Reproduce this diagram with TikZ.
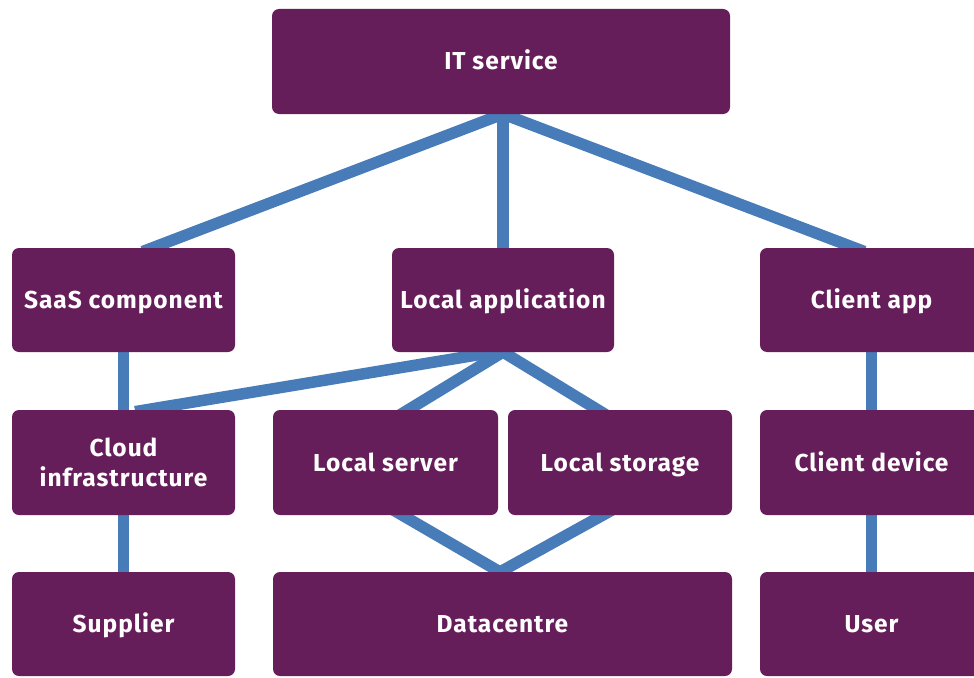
\documentclass[tikz,border=0pt]{standalone}
\usepackage{fontspec}
\setmainfont{Fira Sans}[LetterSpace=4]
\usetikzlibrary{backgrounds}
\definecolor{boxpurple}{RGB}{102,30,90}
\definecolor{linkblue}{RGB}{72,124,184}
\tikzset{
  box/.style={rounded corners=7pt, fill=boxpurple, text=white, inner sep=0pt, outer sep=0pt,
    font=\fontsize{24.5}{30}\selectfont\bfseries, align=center, minimum height=105pt},
  oneline/.style={text height=17pt, text depth=0pt},
  link/.style={draw=linkblue, line width=11.5pt, shorten <=-10pt, shorten >=-10pt}
}
\begin{document}
\begin{tikzpicture}[x=1pt,y=-1pt]
\useasboundingbox (0,0) rectangle (974,677);
\clip (0,0) rectangle (974,677);
\node[box, oneline, minimum width=458pt] (it) at (501,61.5) {IT service};
\node[box, oneline, minimum width=223pt, minimum height=104pt] (saas) at (123.5,300) {SaaS component};
\node[box, oneline, minimum width=222pt, minimum height=104pt] (app) at (503,300) {Local application};
\node[box, oneline, minimum width=223pt, minimum height=104pt] (capp) at (871.5,300) {Client app};
\node[box, minimum width=223pt] (cloud) at (123.5,462.5) {Cloud\\infrastructure};
\node[box, oneline, minimum width=225pt] (server) at (385.5,462.5) {Local server};
\node[box, oneline, minimum width=224pt] (storage) at (620,462.5) {Local storage};
\node[box, oneline, minimum width=223pt] (cdev) at (871.5,462.5) {Client device};
\node[box, oneline, minimum width=223pt, minimum height=104pt] (supplier) at (123.5,624) {Supplier};
\node[box, oneline, minimum width=459pt, minimum height=104pt] (dc) at (502.5,624) {Datacentre};
\node[box, oneline, minimum width=223pt, minimum height=104pt] (user) at (871.5,624) {User};
\begin{scope}[on background layer]
\draw[link] ([xshift=2pt]it.south) -- ([xshift=28.5pt]saas.north);
\draw[link] (app.north |- it.south) -- (app.north);
\draw[link] ([xshift=2pt]it.south) -- ([xshift=-16.5pt]capp.north);
\draw[link] (saas.south) -- (cloud.north);
\draw[link] ([xshift=-8pt]app.south) -- ([xshift=21.5pt]cloud.north);
\draw[link] (app.south) -- ([xshift=22.5pt]server.north);
\draw[link] (app.south) -- ([xshift=-22pt]storage.north);
\draw[link] ([xshift=16.5pt]server.south) -- ([xshift=-2.5pt]dc.north);
\draw[link] ([xshift=-17pt]storage.south) -- ([xshift=-2.5pt]dc.north);
\draw[link] (cloud.south) -- (supplier.north);
\draw[link] (capp.south) -- (cdev.north);
\draw[link] (cdev.south) -- (user.north);
\end{scope}
\end{tikzpicture}
\end{document}
